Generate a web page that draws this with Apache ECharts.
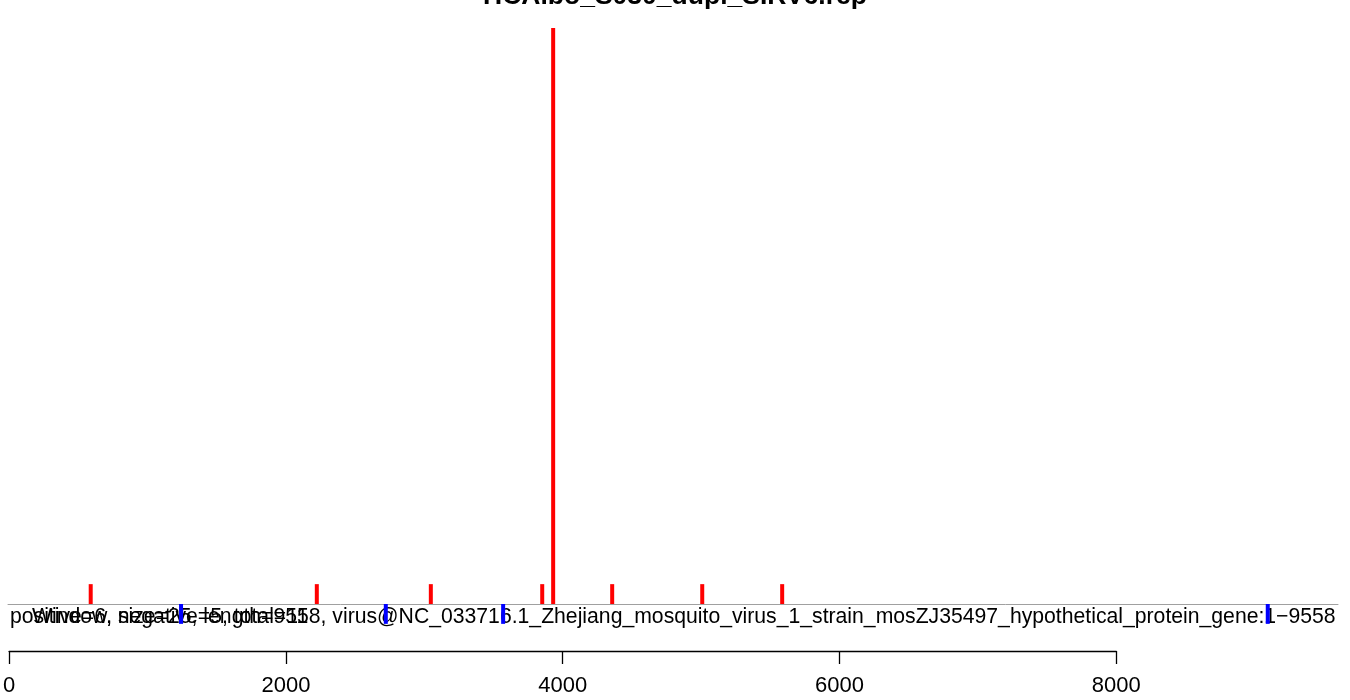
<!DOCTYPE html>
<html>
<head>
<meta charset="utf-8">
<script src="https://cdn.jsdelivr.net/npm/echarts@6/dist/echarts.min.js"></script>
<style>
html,body{margin:0;padding:0;background:#fff;}
#chart{width:1350px;height:700px;}
</style>
</head>
<body>
<div id="chart"></div>
<script>
const titleText = "HCAlbo_S030_dupl_SIRV6.rep";
const redPos = [597, 2229, 3052, 3856, 3935, 4361, 5011, 5588];
const redVal = [1, 1, 1, 1, 29, 1, 1, 1];
const bluePos = [1249, 2727, 3574, 9093];
const blueVal = [-1, -1, -1, -1];
const axisTicks = [0, 2000, 4000, 6000, 8000];
const textA = "positive=6, negative=5, total=11";
const textB = "Window, size=25, length=9558, virus@NC_033716.1_Zhejiang_mosquito_virus_1_strain_mosZJ35497_hypothetical_protein_gene:1\u22129558";

const FONT = "'Liberation Sans', Arial, Helvetica, sans-serif";
const chart = echarts.init(document.getElementById('chart'), null, {renderer: 'canvas'});

const k = 576 / 29;
const gridTop = 28;
const yMin = -2, yMax = 29;
const gridHeight = (yMax - yMin) * k;

const option = {
  animation: false,
  backgroundColor: '#ffffff',
  title: {
    text: titleText,
    left: 'center',
    top: -22,
    textStyle: {fontFamily: FONT, fontSize: 26.5, fontWeight: 'bold', color: '#000'}
  },
  grid: [
    {left: 8, right: 12, top: gridTop, height: gridHeight},
    {left: 8, width: 8000 * (1330 / 9600), top: 650, height: 1}
  ],
  xAxis: [
    {
      type: 'value', gridIndex: 0, min: 0, max: 9600,
      axisLine: {show: true, onZero: true, lineStyle: {color: '#a0a0a0', width: 1}},
      axisTick: {show: false}, axisLabel: {show: false}, splitLine: {show: false}
    },
    {
      type: 'value', gridIndex: 1, min: 0, max: 8000, interval: 2000,
      position: 'bottom',
      axisLine: {show: true, onZero: false, lineStyle: {color: '#000', width: 1.3}},
      axisTick: {show: true, inside: false, length: 13, lineStyle: {color: '#000', width: 1.3}},
      axisLabel: {show: true, margin: 24, fontFamily: FONT, fontSize: 22, color: '#000',
        formatter: v => axisTicks.includes(v) ? String(v) : ''},
      splitLine: {show: false}
    }
  ],
  yAxis: [
    {type: 'value', gridIndex: 0, min: yMin, max: yMax, show: false, splitLine: {show: false}},
    {type: 'value', gridIndex: 1, min: 0, max: 1, show: false, splitLine: {show: false}}
  ],
  series: [
    {
      type: 'bar', xAxisIndex: 0, yAxisIndex: 0, barWidth: 4, barGap: '-100%',
      itemStyle: {color: '#ff0000'},
      data: redPos.map((p, i) => [p, redVal[i]])
    },
    {
      type: 'bar', xAxisIndex: 0, yAxisIndex: 0, barWidth: 4, barGap: '-100%',
      itemStyle: {color: '#0000ff'},
      data: bluePos.map((p, i) => [p, blueVal[i]])
    }
  ],
  graphic: [
    {type: 'text', left: 10, top: 607, style: {text: textA, fontFamily: FONT, fontSize: 21.2, fill: '#000'}},
    {type: 'text', left: 32, top: 607, style: {text: textB, fontFamily: FONT, fontSize: 21.2, fill: '#000'}}
  ]
};
chart.setOption(option);
</script>
</body>
</html>
